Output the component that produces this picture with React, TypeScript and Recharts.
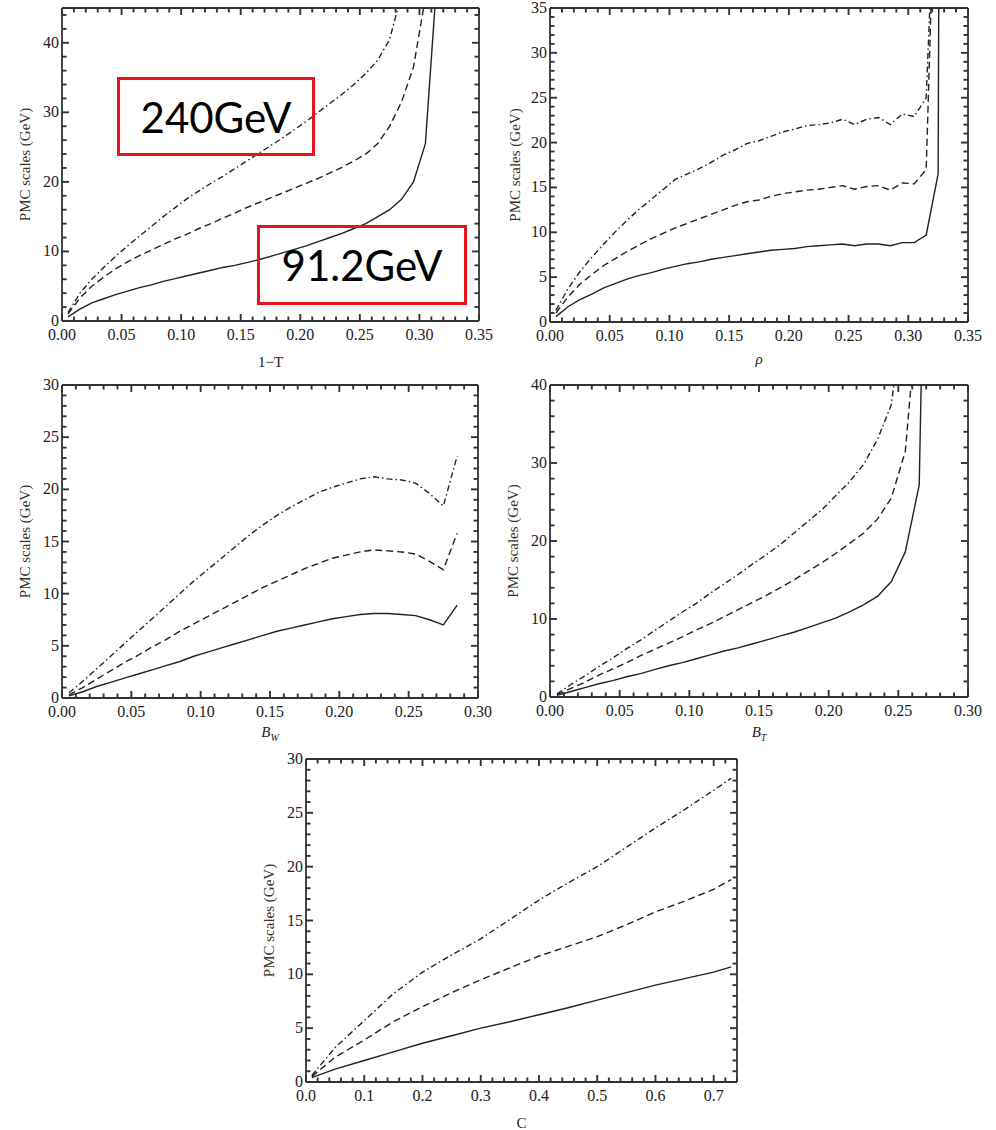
import React from 'react';
import { LineChart, Line, XAxis, YAxis, ReferenceLine } from 'recharts';

// ---- 1-T panel ----
const thrustX = [0.005, 0.015, 0.025, 0.035, 0.045, 0.055, 0.065, 0.075, 0.085, 0.095, 0.105, 0.115, 0.125, 0.135, 0.145, 0.155, 0.165, 0.175, 0.185, 0.195, 0.205, 0.215, 0.225, 0.235, 0.245, 0.255, 0.265, 0.275, 0.285, 0.295, 0.305, 0.315];
const thrustSolid = [0.6, 1.7, 2.6, 3.2, 3.8, 4.3, 4.8, 5.2, 5.7, 6.1, 6.5, 6.9, 7.3, 7.7, 8.0, 8.4, 8.8, 9.3, 9.8, 10.3, 10.8, 11.4, 12.0, 12.6, 13.3, 14.0, 15.0, 16.0, 17.5, 20.0, 25.5, 50];
const thrustDashed = [1.0, 3.3, 5.0, 6.3, 7.5, 8.5, 9.4, 10.2, 11.0, 11.8, 12.5, 13.3, 14.0, 14.8, 15.5, 16.3, 17.0, 17.7, 18.4, 19.1, 19.8, 20.5, 21.3, 22.1, 23.0, 24.0, 25.5, 28.0, 31.5, 36.5, 46.5];
const thrustDashDot = [1.2, 4.0, 6.0, 7.7, 9.3, 10.8, 12.2, 13.6, 15.0, 16.3, 17.6, 18.7, 19.8, 20.8, 21.9, 23.0, 24.1, 25.2, 26.3, 27.5, 28.7, 30.0, 31.3, 32.6, 34.0, 35.6, 37.5, 40.5, 47];

// ---- rho panel ----
const rhoX = [0.005, 0.015, 0.025, 0.035, 0.045, 0.055, 0.065, 0.075, 0.085, 0.095, 0.105, 0.115, 0.125, 0.135, 0.145, 0.155, 0.165, 0.175, 0.185, 0.195, 0.205, 0.215, 0.225, 0.235, 0.245, 0.255, 0.265, 0.275, 0.285, 0.295, 0.305, 0.315, 0.325, 0.335];
const rhoSolid = [0.6, 1.7, 2.5, 3.1, 3.8, 4.3, 4.8, 5.2, 5.5, 5.9, 6.2, 6.5, 6.7, 7.0, 7.2, 7.4, 7.6, 7.8, 8.0, 8.1, 8.2, 8.4, 8.5, 8.6, 8.7, 8.5, 8.7, 8.7, 8.5, 8.85, 8.85, 9.7, 16.5, 400];
const rhoDashed = [1.0, 2.8, 4.2, 5.3, 6.3, 7.1, 7.9, 8.6, 9.3, 9.9, 10.5, 11.0, 11.5, 12.0, 12.5, 13.0, 13.4, 13.6, 14.0, 14.3, 14.5, 14.7, 14.8, 15.0, 15.2, 14.8, 15.1, 15.2, 14.7, 15.5, 15.4, 17.0, 62];
const rhoDashDot = [1.3, 3.7, 5.6, 7.2, 8.7, 10.1, 11.4, 12.6, 13.7, 14.8, 15.9, 16.5, 17.1, 17.8, 18.6, 19.2, 19.9, 20.2, 20.7, 21.2, 21.5, 21.9, 22.0, 22.2, 22.6, 22.0, 22.6, 22.8, 22.0, 23.2, 22.9, 25.0, 58];

// ---- B_W panel ----
const bwX = [0.005, 0.015, 0.025, 0.035, 0.045, 0.055, 0.065, 0.075, 0.085, 0.095, 0.105, 0.115, 0.125, 0.135, 0.145, 0.155, 0.165, 0.175, 0.185, 0.195, 0.205, 0.215, 0.225, 0.235, 0.245, 0.255, 0.265, 0.275, 0.285];
const bwSolid = [0.2, 0.6, 1.1, 1.5, 1.9, 2.3, 2.7, 3.1, 3.5, 4.0, 4.4, 4.8, 5.2, 5.6, 6.0, 6.4, 6.7, 7.0, 7.3, 7.6, 7.8, 8.0, 8.1, 8.1, 8.0, 7.9, 7.5, 7.0, 8.9];
const bwDashed = [0.3, 1.0, 1.8, 2.6, 3.4, 4.1, 4.9, 5.6, 6.4, 7.1, 7.8, 8.5, 9.2, 9.9, 10.6, 11.2, 11.8, 12.4, 12.9, 13.4, 13.7, 14.0, 14.2, 14.1, 14.0, 13.8, 13.1, 12.3, 15.8];
const bwDashDot = [0.5, 1.6, 2.8, 4.0, 5.2, 6.4, 7.6, 8.8, 10.0, 11.2, 12.3, 13.4, 14.5, 15.6, 16.6, 17.5, 18.3, 19.0, 19.7, 20.2, 20.6, 21.0, 21.2, 21.0, 20.9, 20.6, 19.6, 18.4, 23.2];

// ---- B_T panel ----
const btX = [0.005, 0.015, 0.025, 0.035, 0.045, 0.055, 0.065, 0.075, 0.085, 0.095, 0.105, 0.115, 0.125, 0.135, 0.145, 0.155, 0.165, 0.175, 0.185, 0.195, 0.205, 0.215, 0.225, 0.235, 0.245, 0.255, 0.265, 0.275];
const btSolid = [0.2, 0.7, 1.2, 1.7, 2.1, 2.6, 3.0, 3.5, 4.0, 4.4, 4.9, 5.4, 5.9, 6.3, 6.8, 7.3, 7.8, 8.3, 8.9, 9.5, 10.1, 10.9, 11.8, 12.9, 14.8, 18.6, 27.2, 120];
const btDashed = [0.3, 1.1, 1.9, 2.8, 3.6, 4.4, 5.3, 6.1, 6.9, 7.7, 8.6, 9.4, 10.3, 11.2, 12.1, 13.0, 14.0, 15.0, 16.1, 17.2, 18.4, 19.7, 21.0, 22.8, 25.5, 31.5, 52];
const btDashDot = [0.4, 1.6, 2.7, 3.9, 5.0, 6.2, 7.3, 8.5, 9.7, 10.9, 12.0, 13.3, 14.5, 15.7, 17.0, 18.2, 19.5, 21.0, 22.5, 24.0, 25.8, 27.6, 29.8, 33.0, 37.5, 52];

// ---- C panel ----
const cX = [0.01, 0.05, 0.1, 0.15, 0.2, 0.25, 0.3, 0.35, 0.4, 0.45, 0.5, 0.55, 0.6, 0.65, 0.7, 0.73];
const cSolid = [0.4, 1.2, 2.0, 2.8, 3.6, 4.3, 5.0, 5.6, 6.25, 6.9, 7.6, 8.3, 9.0, 9.6, 10.2, 10.7];
const cDashed = [0.5, 2.3, 3.9, 5.6, 7.0, 8.3, 9.5, 10.6, 11.7, 12.6, 13.5, 14.6, 15.8, 16.8, 17.9, 18.8];
const cDashDot = [0.6, 3.2, 5.7, 8.2, 10.2, 11.8, 13.3, 15.1, 16.9, 18.5, 20.0, 21.8, 23.6, 25.3, 27.1, 28.2];

// major tick labels
const xTicks035 = [0, 0.05, 0.1, 0.15, 0.2, 0.25, 0.3, 0.35];
const xTicks030 = [0, 0.05, 0.1, 0.15, 0.2, 0.25, 0.3];
const xTicksC = [0, 0.1, 0.2, 0.3, 0.4, 0.5, 0.6, 0.7];
const yTicks45 = [0, 10, 20, 30, 40];
const yTicks35 = [0, 5, 10, 15, 20, 25, 30, 35];
const yTicks30 = [0, 5, 10, 15, 20, 25, 30];
const yTicks40 = [0, 10, 20, 30, 40];

const SERIF = '"Liberation Serif", "Times New Roman", serif';
const INK = '#222';
const FRAME = '#333';
const DASHED = '7 4';
const DASHDOT = '6 3 1.5 3';
const MAJOR_LEN = 7;
const MINOR_LEN = 4.5;

const zip = (xs: number[], ys: number[]) => ys.map((y, i) => ({ x: xs[i], y }));
const isMajor = (list: number[], v: number) => list.some((m) => Math.abs(m - v) < 1e-9);
const stepTicks = (lo: number, hi: number, step: number) => {
  const out: number[] = [];
  for (let v = lo; v <= hi + 1e-9; v += step) out.push(+v.toFixed(4));
  return out;
};

// tick labels only; the tick marks themselves are ReferenceLine segments
const bottomLabel = (major: number[], digits: number) => (props: any) => {
  const v = props.payload.value;
  if (!isMajor(major, v)) return <g />;
  return (
    <text x={props.x} y={props.y + 19} textAnchor="middle" fontFamily={SERIF} fontSize={16} fill={INK}>
      {v.toFixed(digits)}
    </text>
  );
};

const leftLabel = (props: any) => (
  <text x={props.x - 3} y={props.y + 5} textAnchor="end" fontFamily={SERIF} fontSize={16} fill={INK}>
    {props.payload.value}
  </text>
);

interface Curve { data: { x: number; y: number }[]; dash?: string }

interface PanelProps {
  left: number; top: number; width: number; height: number;
  margin: { top: number; right: number; left: number; bottom: number };
  yWidth: number; xHeight: number;
  xMax: number; yMax: number;
  xMajor: number[]; xStep: number; xDigits: number;
  yMajor: number[]; yStep: number;
  curves: Curve[];
  xLabel: React.ReactNode; xLabelDy: number; yLabelDx: number;
}

const Panel: React.FC<PanelProps> = (p) => {
  const xAll = stepTicks(0, p.xMax, p.xStep);
  const yAll = stepTicks(0, p.yMax, p.yStep);
  const plotW = p.width - p.yWidth - p.margin.left - p.margin.right;
  const plotH = p.height - p.xHeight - p.margin.top - p.margin.bottom;
  // pixel tick length -> data units
  const dy = (px: number) => (px * p.yMax) / plotH;
  const dx = (px: number) => (px * p.xMax) / plotW;
  const frame = { stroke: FRAME, strokeWidth: 1.8 };

  const tick = (key: string, a: { x: number; y: number }, b: { x: number; y: number }) => (
    <ReferenceLine
      key={key} xAxisId="b" yAxisId="l" ifOverflow="visible" isFront
      stroke={FRAME} strokeWidth={1.9} segment={[a, b]}
    />
  );

  const marks: React.ReactNode[] = [];
  xAll.forEach((v) => {
    const l = isMajor(p.xMajor, v) ? MAJOR_LEN : MINOR_LEN;
    marks.push(tick(`xb${v}`, { x: v, y: 0 }, { x: v, y: dy(l) }));
    marks.push(tick(`xt${v}`, { x: v, y: p.yMax - dy(l) }, { x: v, y: p.yMax }));
  });
  yAll.forEach((v) => {
    const l = isMajor(p.yMajor, v) ? MAJOR_LEN : MINOR_LEN;
    marks.push(tick(`yl${v}`, { x: 0, y: v }, { x: dx(l), y: v }));
    marks.push(tick(`yr${v}`, { x: p.xMax - dx(l), y: v }, { x: p.xMax, y: v }));
  });

  return (
    <div style={{ position: 'absolute', left: p.left, top: p.top }}>
      <LineChart width={p.width} height={p.height} margin={p.margin}>
        <XAxis
          xAxisId="b" type="number" dataKey="x" domain={[0, p.xMax]} allowDataOverflow
          ticks={xAll} interval={0} tickLine={false} tickSize={0} tickMargin={0}
          axisLine={frame} height={p.xHeight} tick={bottomLabel(p.xMajor, p.xDigits)}
          label={(lp: any) => {
            const vb = lp.viewBox;
            return (
              <text x={vb.x + vb.width / 2} y={vb.y + p.xLabelDy} textAnchor="middle" fontFamily={SERIF} fontSize={15} fill={INK}>
                {p.xLabel}
              </text>
            );
          }}
        />
        <YAxis
          yAxisId="l" type="number" domain={[0, p.yMax]} allowDataOverflow
          ticks={p.yMajor} interval={0} tickLine={false} tickSize={0} tickMargin={0}
          axisLine={frame} width={p.yWidth} tick={leftLabel}
          label={(lp: any) => {
            const vb = lp.viewBox;
            const cx = vb.x + p.yLabelDx;
            const cy = vb.y + vb.height / 2;
            return (
              <text x={cx} y={cy} transform={`rotate(-90 ${cx} ${cy})`} textAnchor="middle" dominantBaseline="central"
                fontFamily={SERIF} fontSize={15} fill="#3b3026">
                PMC scales (GeV)
              </text>
            );
          }}
        />
        {/* closing edges of the frame */}
        <ReferenceLine xAxisId="b" yAxisId="l" y={p.yMax} stroke={FRAME} strokeWidth={1.8} ifOverflow="visible" />
        <ReferenceLine xAxisId="b" yAxisId="l" x={p.xMax} stroke={FRAME} strokeWidth={1.8} ifOverflow="visible" />
        {marks}
        {p.curves.map((c, i) => (
          <Line
            key={i} xAxisId="b" yAxisId="l" data={c.data} dataKey="y" type="linear"
            stroke={INK} strokeWidth={1.4} strokeDasharray={c.dash} dot={false} activeDot={false}
            isAnimationActive={false}
          />
        ))}
      </LineChart>
    </div>
  );
};

const italicSub = (main: string, sub: string) => (
  <>
    <tspan fontStyle="italic">{main}</tspan>
    <tspan fontStyle="italic" fontSize={10} dy={4}>{sub}</tspan>
  </>
);

const boxStyle: React.CSSProperties = {
  position: 'absolute', boxSizing: 'border-box', border: '3.5px solid #e8141c',
  display: 'flex', alignItems: 'center', justifyContent: 'center',
  fontFamily: 'Lato, "Open Sans", sans-serif', fontSize: 42, color: '#000', lineHeight: 1,
};

export default function App() {
  return (
    <div style={{ position: 'absolute', left: 0, top: 0, width: 996, height: 1130, background: '#fff' }}>
      <Panel
        left={0} top={0} width={500} height={370} margin={{ top: 8, right: 21, left: 0, bottom: 0 }}
        yWidth={62} xHeight={49} xMax={0.35} yMax={45}
        xMajor={xTicks035} xStep={0.01} xDigits={2} yMajor={yTicks45} yStep={2}
        curves={[
          { data: zip(thrustX, thrustSolid) },
          { data: zip(thrustX, thrustDashed), dash: DASHED },
          { data: zip(thrustX, thrustDashDot), dash: DASHDOT },
        ]}
        xLabel="1−T" xLabelDy={46} yLabelDx={25}
      />
      <Panel
        left={490} top={0} width={506} height={370} margin={{ top: 8, right: 28, left: 0, bottom: 0 }}
        yWidth={60} xHeight={48} xMax={0.35} yMax={35}
        xMajor={xTicks035} xStep={0.01} xDigits={2} yMajor={yTicks35} yStep={1}
        curves={[
          { data: zip(rhoX, rhoSolid) },
          { data: zip(rhoX, rhoDashed), dash: DASHED },
          { data: zip(rhoX, rhoDashDot), dash: DASHDOT },
        ]}
        xLabel={<tspan fontStyle="italic">ρ</tspan>} xLabelDy={42} yLabelDx={25}
      />
      <Panel
        left={0} top={370} width={500} height={380} margin={{ top: 15, right: 22, left: 0, bottom: 0 }}
        yWidth={62} xHeight={52} xMax={0.3} yMax={30}
        xMajor={xTicks030} xStep={0.01} xDigits={2} yMajor={yTicks30} yStep={1}
        curves={[
          { data: zip(bwX, bwSolid) },
          { data: zip(bwX, bwDashed), dash: DASHED },
          { data: zip(bwX, bwDashDot), dash: DASHDOT },
        ]}
        xLabel={italicSub('B', 'W')} xLabelDy={39} yLabelDx={25}
      />
      <Panel
        left={490} top={370} width={506} height={380} margin={{ top: 15, right: 28, left: 0, bottom: 0 }}
        yWidth={60} xHeight={53} xMax={0.3} yMax={40}
        xMajor={xTicks030} xStep={0.01} xDigits={2} yMajor={yTicks40} yStep={2}
        curves={[
          { data: zip(btX, btSolid) },
          { data: zip(btX, btDashed), dash: DASHED },
          { data: zip(btX, btDashDot), dash: DASHDOT },
        ]}
        xLabel={italicSub('B', 'T')} xLabelDy={40} yLabelDx={23}
      />
      <Panel
        left={240} top={750} width={520} height={380} margin={{ top: 9, right: 23, left: 0, bottom: 0 }}
        yWidth={66} xHeight={48} xMax={0.74} yMax={30}
        xMajor={xTicksC} xStep={0.02} xDigits={1} yMajor={yTicks30} yStep={1}
        curves={[
          { data: zip(cX, cSolid) },
          { data: zip(cX, cDashed), dash: DASHED },
          { data: zip(cX, cDashDot), dash: DASHDOT },
        ]}
        xLabel="C" xLabelDy={46} yLabelDx={29}
      />
      <div style={{ ...boxStyle, left: 117, top: 77, width: 198, height: 79 }}>240GeV</div>
      <div style={{ ...boxStyle, left: 257, top: 225, width: 210, height: 80 }}>91.2GeV</div>
    </div>
  );
}
